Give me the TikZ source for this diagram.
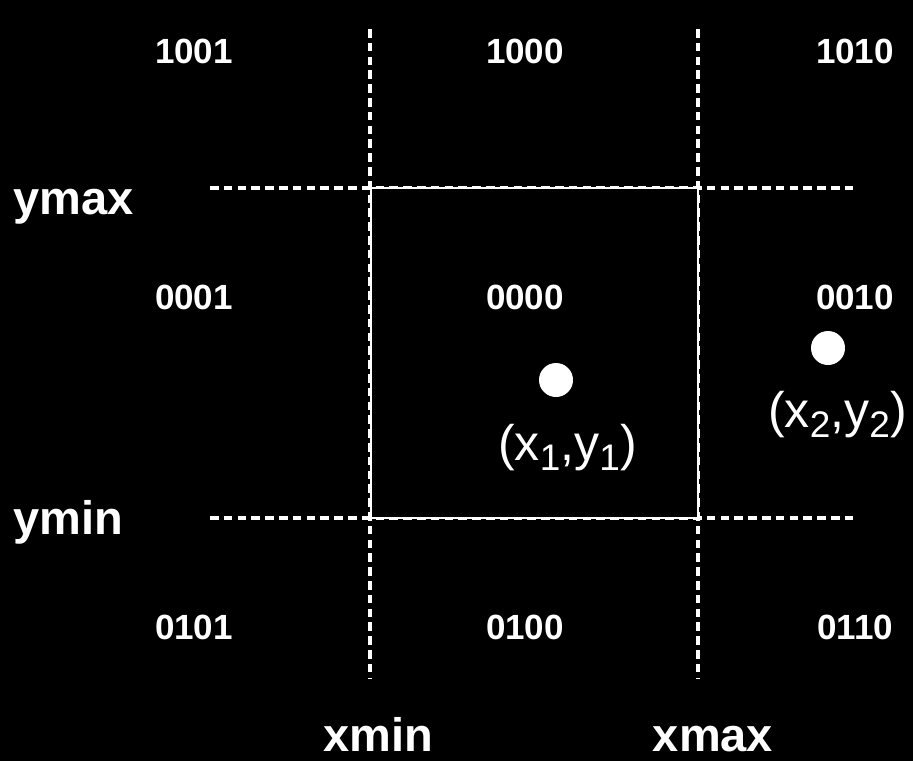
\documentclass[tikz,border=0pt]{standalone}
\usepackage{fontspec}
\setmainfont{Liberation Sans}
\newcommand\sbs[1]{\raisebox{-0.2em}{\fontsize{37}{37}\selectfont #1}}
\tikzset{
  code/.style={text=white,font=\fontsize{35}{35}\selectfont\bfseries,inner sep=0pt,anchor=base},
  axislbl/.style={text=white,font=\fontsize{47}{47}\selectfont\bfseries,inner sep=0pt,anchor=base},
  coordlbl/.style={text=white,font=\fontsize{50}{50}\selectfont,inner sep=0pt,anchor=base},
  guide/.style={draw=white,line width=3.4pt,dash pattern=on 8.5pt off 5.3pt},
  window/.style={draw=white,line width=2pt},
  pt/.style={circle,fill=white,inner sep=0pt,minimum size=34pt}
}
\begin{document}
\begin{tikzpicture}[x=1pt,y=-1pt]
\fill[black] (0,0) rectangle (913,761);
\useasboundingbox (0,0) rectangle (913,761);
% guide endpoints
\coordinate (vlT) at (370,29);
\coordinate (vlB) at (370,678);
\coordinate (vrT) at (698,29);
\coordinate (vrB) at (698,678);
\coordinate (htL) at (210,188);
\coordinate (htR) at (857,188);
\coordinate (hbL) at (210,518);
\coordinate (hbR) at (857,518);
\draw[guide] (vlT) -- (vlB);
\draw[guide] (vrT) -- (vrB);
\draw[guide] (htL) -- (htR);
\draw[guide] (hbL) -- (hbR);
% clipping window
\node[window,minimum width=327pt,minimum height=330pt,inner sep=0pt,fill=black] (win) at (534,353) {};
% region codes
\node[code] (c1001) at (194,63) {1001};
\node[code] (c1000) at (525,63) {1000};
\node[code] (c1010) at (855,63) {1010};
\node[code] (c0001) at (194,309) {0001};
\node[code] (c0000) at (525,309) {0000};
\node[code] (c0010) at (855,309) {0010};
\node[code] (c0101) at (194,639) {0101};
\node[code] (c0100) at (525,639) {0100};
\node[code] (c0110) at (855,639) {0110};
% axis labels
\node[axislbl,anchor=base west] (ymax) at (13,214) {ymax};
\node[axislbl,anchor=base west] (ymin) at (13,534) {ymin};
\node[axislbl] (xmin) at (378.5,751) {xmin};
\node[axislbl] (xmax) at (713,751) {xmax};
% points
\node[pt] (p1) at (556,380) {};
\node[pt] (p2) at (828,348) {};
\node[coordlbl] (l1) at (567.5,460) {(x\sbs{1},y\sbs{1})};
\node[coordlbl] (l2) at (837.5,427) {(x\sbs{2},y\sbs{2})};
\end{tikzpicture}
\end{document}
